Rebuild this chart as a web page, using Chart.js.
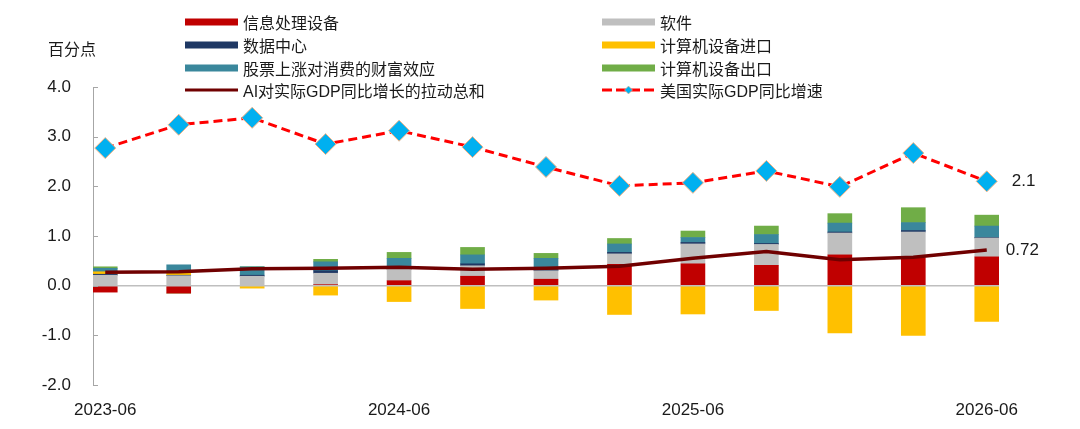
<!DOCTYPE html>
<html>
<head>
<meta charset="utf-8">
<script src="https://cdn.jsdelivr.net/npm/chart.js@4.4.1/dist/chart.umd.min.js"></script>
<style>
  body { margin: 0; background: #fff; font-family: "Liberation Sans", Arial, "Noto Sans CJK SC", sans-serif; }
  #wrap { position: relative; width: 1080px; height: 429px; overflow: hidden; }
  #c { position: absolute; left: 0; top: 0; }
  .unit { position: absolute; left: 48px; top: 36px; font-size: 16px; color: #1a1a1a; }
  .lg { position: absolute; display: flex; align-items: center; height: 22px; font-size: 16px; color: #1a1a1a; white-space: nowrap; }
  .lg svg { margin-right: 5px; }
</style>
</head>
<body>
<div id="wrap">
  <canvas id="c" width="1080" height="429"></canvas>
  <div class="unit">百分点</div>
  <div id="legend"></div>
</div>
<script>
// 季度
const dates = ['2023-06','2023-09','2023-12','2024-03','2024-06','2024-09','2024-12',
               '2025-03','2025-06','2025-09','2025-12','2026-03','2026-06'];
const xTickIdx = [0, 4, 8, 12];   // 只显示每年6月
const yTicks = [-2, -1, 0, 1, 2, 3, 4];

// 各项拉动 (百分点)
const infoEquip    = [-0.13,-0.15, 0.00, 0.02, 0.10, 0.19, 0.13, 0.43, 0.44, 0.41, 0.62, 0.56, 0.58];
const software     = [ 0.21, 0.20, 0.19, 0.23, 0.23, 0.21, 0.17, 0.21, 0.40, 0.42, 0.44, 0.52, 0.38];
const dataCenter   = [ 0.02, 0.01, 0.02, 0.05, 0.02, 0.04, 0.02, 0.03, 0.03, 0.02, 0.02, 0.03, 0.01];
const compImport   = [ 0.05, 0.05,-0.05,-0.19,-0.32,-0.46,-0.29,-0.58,-0.57,-0.50,-0.95,-1.00,-0.72];
const wealthEffect = [ 0.07, 0.16, 0.17, 0.18, 0.20, 0.18, 0.23, 0.17, 0.10, 0.18, 0.18, 0.16, 0.23];
const compExport   = [ 0.03, 0.00, 0.00, 0.05, 0.12, 0.15, 0.10, 0.11, 0.13, 0.17, 0.19, 0.30, 0.22];
const aiTotal      = [ 0.27, 0.28, 0.34, 0.35, 0.37, 0.33, 0.35, 0.39, 0.55, 0.69, 0.52, 0.57, 0.72];
const usGdp        = [ 2.77, 3.24, 3.38, 2.85, 3.12, 2.79, 2.39, 2.01, 2.07, 2.31, 1.99, 2.67, 2.1];

const pts = arr => arr.map((v, i) => ({ x: i, y: v }));

function barSet(label, arr, color) {
  return { type: 'bar', label: label, data: pts(arr), backgroundColor: color,
           stack: 'parts', order: 1, barThickness: 24, borderWidth: 0 };
}

const bars = [
  barSet('信息处理设备', infoEquip, '#C00000'),
  barSet('软件', software, '#BFBFBF'),
  barSet('数据中心', dataCenter, '#1F3864'),
  barSet('计算机设备进口', compImport, '#FFC000'),
  barSet('股票上涨对消费的财富效应', wealthEffect, '#3A879C'),
  barSet('计算机设备出口', compExport, '#70AD47')
];
const aiLine = {
  type: 'line', label: 'AI对实际GDP同比增长的拉动总和', data: pts(aiTotal),
  borderColor: '#700000', borderWidth: 3.5, pointRadius: 0, tension: 0,
  stack: 'aiLine', order: 0
};
const gdpLine = {
  type: 'line', label: '美国实际GDP同比增速', data: pts(usGdp),
  borderColor: '#FF0000', borderWidth: 3, borderDash: [9, 5], tension: 0,
  pointStyle: 'rectRot', pointRadius: 10.5, pointBackgroundColor: '#00B0F0',
  pointBorderColor: '#F4B183', pointBorderWidth: 1,
  stack: 'gdpLine', order: 0
};

// 零线、内侧刻度、末端数值
const extras = {
  id: 'extras',
  afterDatasetsDraw(chart) {
    const ctx = chart.ctx, a = chart.chartArea;
    const x = chart.scales.x, y = chart.scales.y;
    ctx.save();
    ctx.strokeStyle = '#BFBFBF';
    ctx.lineWidth = 1.5;
    ctx.beginPath();
    ctx.moveTo(a.left, y.getPixelForValue(0));
    ctx.lineTo(a.right, y.getPixelForValue(0));
    ctx.stroke();
    ctx.strokeStyle = '#A6A6A6';
    ctx.lineWidth = 1;
    yTicks.forEach(v => {
      const py = Math.round(y.getPixelForValue(v)) + 0.5;
      ctx.beginPath();
      ctx.moveTo(a.left, py);
      ctx.lineTo(a.left + 5, py);
      ctx.stroke();
    });
    ctx.fillStyle = '#1a1a1a';
    ctx.font = '17px "Liberation Sans", Arial, sans-serif';
    ctx.textBaseline = 'middle';
    const last = dates.length - 1;
    const lx = x.getPixelForValue(last);
    ctx.fillText(usGdp[last].toFixed(1), lx + 25, y.getPixelForValue(usGdp[last]));
    ctx.fillText(aiTotal[last].toFixed(2), lx + 19, y.getPixelForValue(aiTotal[last]));
    ctx.restore();
  }
};

const chart = new Chart(document.getElementById('c'), {
  type: 'bar',
  data: { datasets: [aiLine, gdpLine].concat(bars) },
  options: {
    responsive: false,
    animation: false,
    devicePixelRatio: 1,
    layout: { padding: { top: 87, right: 81, left: 0, bottom: 0 } },
    plugins: { legend: { display: false }, tooltip: { enabled: false } },
    scales: {
      x: {
        type: 'linear', min: -1 / 6, max: 12 + 1 / 6, offset: false, stacked: true,
        grid: { display: false, offset: false },
        border: { display: false },
        afterBuildTicks: s => { s.ticks = xTickIdx.map(v => ({ value: v })); },
        afterFit: s => { s.height = 44; },
        ticks: {
          callback: v => dates[v], autoSkip: false, maxRotation: 0,
          font: { size: 17, family: '"Liberation Sans", Arial, sans-serif' },
          color: '#1a1a1a', padding: 7
        }
      },
      y: {
        min: -2, max: 4, stacked: true,
        afterBuildTicks: s => { s.ticks = yTicks.map(v => ({ value: v })); },
        afterFit: s => { s.width = 93; },
        grid: { display: false, drawTicks: false },
        border: { display: true, color: '#A6A6A6', width: 1 },
        ticks: {
          callback: v => v.toFixed(1),
          font: { size: 17, family: '"Liberation Sans", Arial, sans-serif' },
          color: '#1a1a1a', padding: 22
        }
      }
    }
  },
  plugins: [extras]
});

// 图例：两列，按行排列
const legendItems = bars.concat([aiLine, gdpLine]);
const colX = [185, 602];
const rowY = [21.5, 44.5, 67.5, 89.5];
const box = document.getElementById('legend');
legendItems.forEach((ds, k) => {
  let sw;
  if (ds.type === 'bar') {
    sw = `<rect x="0" y="3.5" width="53" height="7" fill="${ds.backgroundColor}"/>`;
  } else if (ds === aiLine) {
    sw = `<line x1="0" y1="7" x2="53" y2="7" stroke="${ds.borderColor}" stroke-width="3"/>`;
  } else {
    sw = `<line x1="0" y1="7" x2="53" y2="7" stroke="${ds.borderColor}" stroke-width="3" stroke-dasharray="10,4"/>` +
         `<polygon points="26.5,3 30.5,7 26.5,11 22.5,7" fill="${ds.pointBackgroundColor}" stroke="${ds.pointBorderColor}" stroke-width="0.6"/>`;
  }
  const d = document.createElement('div');
  d.className = 'lg';
  d.style.left = colX[k % 2] + 'px';
  d.style.top = (rowY[Math.floor(k / 2)] - 11) + 'px';
  d.innerHTML = `<svg width="53" height="14">${sw}</svg><span>${ds.label}</span>`;
  box.appendChild(d);
});
</script>
</body>
</html>
